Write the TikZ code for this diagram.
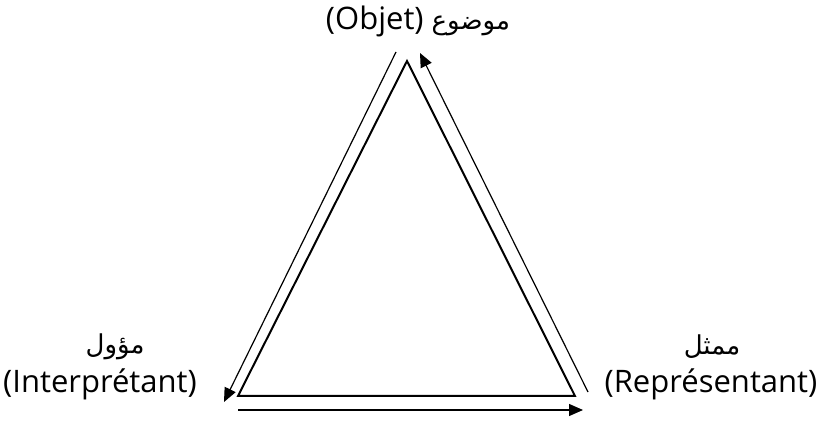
\documentclass[tikz,border=0pt]{standalone}
\usepackage{fontspec}
\setmainfont{Open Sans}
\newfontfamily\arabicfont[Script=Arabic]{DejaVu Sans}
\TeXXeTstate=1
\usetikzlibrary{arrows.meta}
\tikzset{
  lbl/.style={inner sep=0pt, font=\fontsize{31}{36}\selectfont},
  arlbl/.style={inner sep=0pt, font=\fontsize{26}{30}\selectfont\arabicfont},
  tri/.style={line width=2pt, line join=miter},
  side/.style={line width=1.2pt},
  arr/.style={side, -{Triangle[length=14pt,width=12pt]}}
}
\begin{document}
\begin{tikzpicture}[x=1pt,y=-1pt]
\useasboundingbox (0,0) rectangle (823,422);
% triangle vertices
\coordinate (A) at (407,61);
\coordinate (B) at (238,396);
\coordinate (C) at (575,396);
\draw[tri] (A) -- (B) -- (C) -- cycle;
% outer connectors
\coordinate (L1) at (396,52);
\coordinate (L2) at (224,402);
\coordinate (R1) at (588,392);
\coordinate (R2) at (420,53);
\coordinate (S1) at (238,410);
\coordinate (S2) at (583,410);
\draw[arr] (L1) -- (L2);
\draw[arr] (R1) -- (R2);
\draw[arr] (S1) -- (S2);
% labels
\node[lbl, anchor=base] (obj) at (418,30) {(Objet) {\arabicfont\fontsize{26}{30}\selectfont\beginR موضوع\endR}};
\node[arlbl] (interAr) at (115,347) {\beginR مؤول\endR};
\node[lbl] (inter) at (100,384) {(Interprétant)};
\node[arlbl] (repAr) at (712,347) {\beginR ممثل\endR};
\node[lbl] (rep) at (711,384) {(Représentant)};
\end{tikzpicture}
\end{document}
